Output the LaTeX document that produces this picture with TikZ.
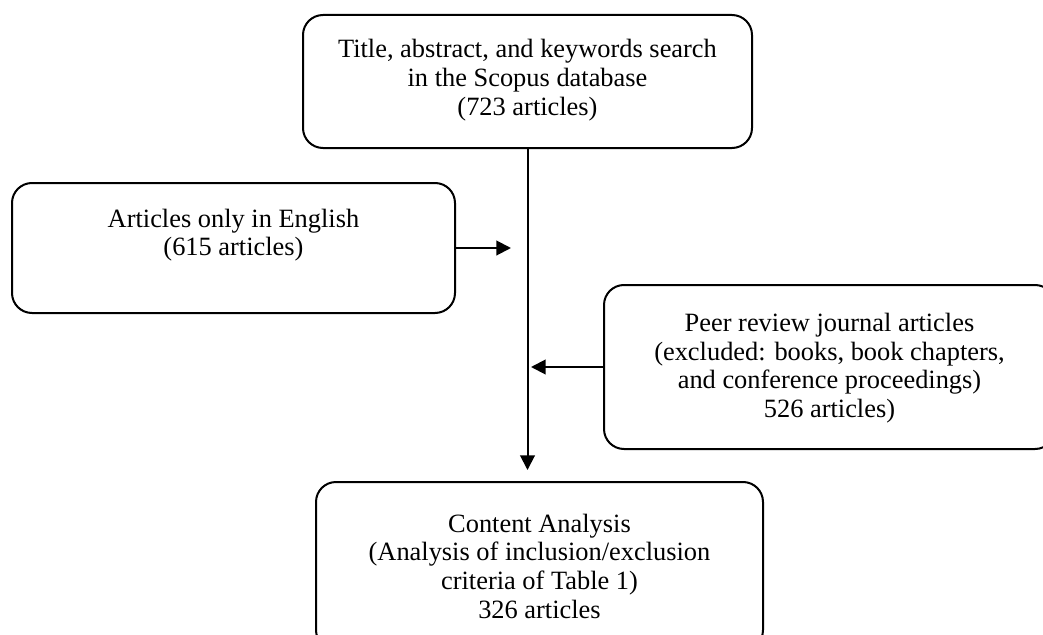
\documentclass[tikz,border=0pt]{standalone}
\usepackage{fontspec}
\setmainfont{Liberation Serif}
\usetikzlibrary{arrows.meta}
\tikzset{
  box/.style={draw, line width=1.5pt, rounded corners=15pt, inner sep=0pt},
  txt/.style={align=center, inner sep=0pt, font=\fontsize{19.8}{21.5}\selectfont},
  arr/.style={line width=1.5pt, -{Triangle[length=11pt,width=11pt]}}
}
\begin{document}
\begin{tikzpicture}[x=0.75pt,y=-0.75pt]
\useasboundingbox (0,0) rectangle (1043,635);
\clip (0,0) rectangle (1043,635);
\node[box, minimum width=336.75pt, minimum height=99.75pt] (top) at (527.5,81.5) {};
\node[txt] (toptext) at (527.5,80) {Title, abstract, and keywords search\\in the Scopus database\\(723 articles)};
\node[box, minimum width=332.25pt, minimum height=97.5pt] (left) at (233.5,248) {};
\node[txt] (lefttext) at (233.5,235) {Articles only in English\\(615 articles)};
\node[box, minimum width=338.25pt, minimum height=123pt] (right) at (829.5,367) {};
\node[txt] (righttext) at (829.5,368) {Peer review journal articles\\(excluded: books, book chapters,\\and conference proceedings)\\526 articles)};
\node[box, minimum width=335.25pt, minimum height=126pt] (bottom) at (539.5,566) {};
\node[txt] (bottomtext) at (539.5,566) {Content Analysis\\(Analysis of inclusion/exclusion\\criteria of Table 1)\\326 articles};
\coordinate (vend) at (527.5,470);
\coordinate (lend) at (511,248);
\coordinate (rend) at (531,367);
\draw[arr] (top.south) -- (vend);
\draw[arr] (left.east) -- (lend);
\draw[arr] (right.west) -- (rend);
\end{tikzpicture}
\end{document}
